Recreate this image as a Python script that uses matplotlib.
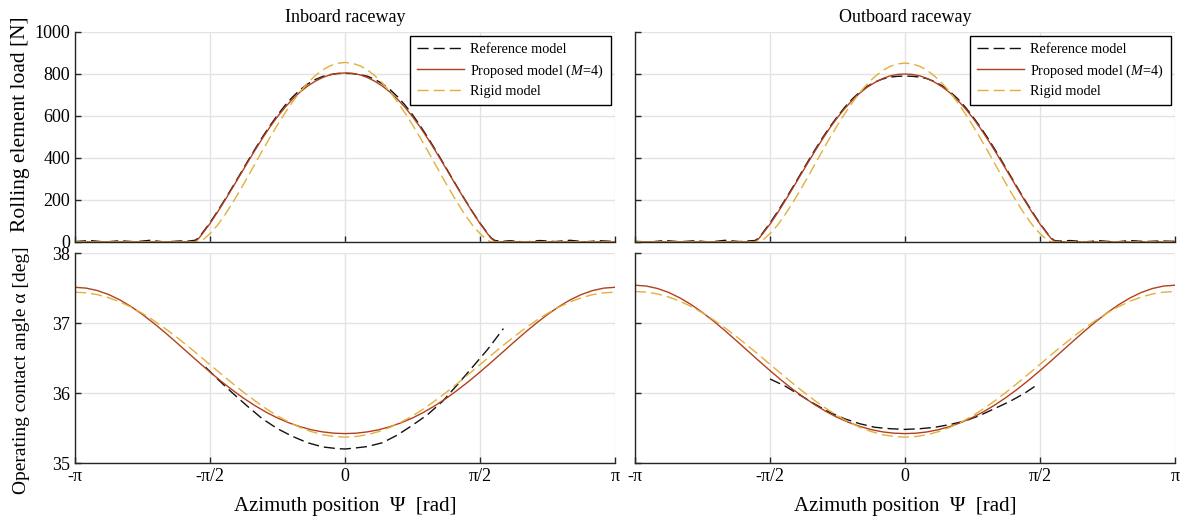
"""Rolling element load and operating contact angle vs azimuth position, inboard/outboard raceways."""

import matplotlib

matplotlib.use("Agg")
import matplotlib.pyplot as plt
import numpy as np

plt.rcParams["font.family"] = ["Liberation Serif", "DejaVu Serif"]
plt.rcParams["mathtext.fontset"] = "custom"
plt.rcParams["mathtext.rm"] = "Liberation Serif"
plt.rcParams["mathtext.it"] = "Liberation Serif:italic"

# ---- data (azimuth in degrees) ----
load_deg = [-180, -105, -102.5, -100, -97.5, -95, -90, -85, -80, -75, -70, -65, -60, -55, -50,
            -45, -40, -35, -30, -25, -20, -15, -10, -5, 0, 5, 10, 15, 20, 25, 30, 35, 40, 45,
            50, 55, 60, 65, 70, 75, 80, 85, 90, 95, 97.5, 100, 102.5, 105, 180]

load_in_proposed = [0, 0, 0, 3, 17, 40, 88, 142, 199, 258, 318, 378, 437, 494, 548,
                    597, 641, 680, 714, 742, 765, 783, 796, 803, 805, 803, 796, 783, 765, 742,
                    714, 680, 641, 597, 548, 494, 437, 378, 318, 258, 199, 142, 88, 40, 17,
                    3, 0, 0, 0]
load_in_rigid = [0, 0, 0, 0, 0, 8, 40, 80, 130, 186, 246, 308, 372, 436, 498,
                 558, 614, 667, 715, 756, 791, 819, 839, 851, 855, 851, 839, 819, 791, 756,
                 715, 667, 614, 558, 498, 436, 372, 308, 246, 186, 130, 80, 40, 8, 0,
                 0, 0, 0, 0]
load_out_proposed = [0, 0, 0, 3, 16, 38, 85, 138, 195, 254, 314, 374, 433, 490, 544,
                     593, 637, 676, 710, 738, 760, 778, 791, 798, 800, 798, 791, 778, 760, 738,
                     710, 676, 637, 593, 544, 490, 433, 374, 314, 254, 195, 138, 85, 38, 16,
                     3, 0, 0, 0]
load_out_rigid = [0, 0, 0, 0, 0, 8, 40, 80, 130, 185, 245, 307, 371, 435, 497,
                  557, 613, 665, 713, 754, 788, 816, 836, 848, 852, 848, 836, 816, 788, 754,
                  713, 665, 613, 557, 497, 435, 371, 307, 245, 185, 130, 80, 40, 8, 0,
                  0, 0, 0, 0]

ref_load_deg = [-180, -170, -160, -150, -140, -130, -120, -110, -105, -100, -97.5, -95, -90, -85,
                -80, -75, -70, -65, -60, -55, -50, -45, -40, -35, -30, -25, -20, -15, -10, -5,
                0, 5, 10, 15, 20, 25, 30, 35, 40, 45, 50, 55, 60, 65, 70, 75, 80, 85, 90, 95,
                97.5, 100, 105, 110, 120, 130, 140, 150, 160, 170, 180]
ref_load_in = [2, 7, 0, 6, 1, 8, 0, 5, 4, 8, 20, 44, 92, 146,
               203, 262, 322, 383, 442, 500, 554, 604, 650, 690, 724, 752, 773, 788, 797, 802,
               803, 802, 797, 789, 774, 753, 726, 692, 652, 606, 555, 500, 442, 382, 321, 260,
               201, 144, 90, 42, 19, 7, 3, 6, 0, 7, 2, 8, 1, 6, 2]
ref_load_out = [3, 0, 7, 1, 6, 0, 8, 2, 5, 7, 19, 42, 90, 144,
                200, 259, 319, 380, 439, 496, 549, 598, 643, 682, 715, 742, 762, 776, 785, 789,
                790, 789, 785, 777, 763, 743, 716, 683, 644, 599, 550, 497, 440, 380, 319, 258,
                199, 142, 88, 40, 18, 6, 4, 7, 1, 6, 0, 7, 2, 5, 3]

angle_deg = [-180, -172.5, -165, -157.5, -150, -142.5, -135, -127.5, -120, -112.5, -105, -97.5,
             -90, -82.5, -75, -67.5, -60, -52.5, -45, -37.5, -30, -22.5, -15, -7.5, 0,
             7.5, 15, 22.5, 30, 37.5, 45, 52.5, 60, 67.5, 75, 82.5, 90,
             97.5, 105, 112.5, 120, 127.5, 135, 142.5, 150, 157.5, 165, 172.5, 180]
angle_in_proposed = [37.510, 37.498, 37.463, 37.406, 37.329, 37.233, 37.121, 36.997, 36.864, 36.724,
                     36.581, 36.439, 36.300, 36.166, 36.041, 35.924, 35.819, 35.725, 35.643, 35.575,
                     35.519, 35.475, 35.445, 35.426, 35.420,
                     35.426, 35.445, 35.475, 35.519, 35.575, 35.643, 35.725, 35.819, 35.924, 36.041,
                     36.166, 36.300, 36.439, 36.581, 36.724, 36.864, 36.997, 37.121, 37.233, 37.329,
                     37.406, 37.463, 37.498, 37.510]
angle_in_rigid = [37.440, 37.431, 37.405, 37.361, 37.301, 37.226, 37.137, 37.035, 36.923, 36.801,
                  36.673, 36.540, 36.405, 36.270, 36.137, 36.009, 35.888, 35.775, 35.673, 35.584,
                  35.509, 35.449, 35.405, 35.379, 35.370,
                  35.379, 35.405, 35.449, 35.509, 35.584, 35.673, 35.775, 35.888, 36.009, 36.137,
                  36.270, 36.405, 36.540, 36.673, 36.801, 36.923, 37.035, 37.137, 37.226, 37.301,
                  37.361, 37.405, 37.431, 37.440]
angle_out_proposed = [37.540, 37.528, 37.493, 37.436, 37.358, 37.262, 37.150, 37.025, 36.890, 36.749,
                      36.605, 36.461, 36.320, 36.184, 36.056, 35.938, 35.830, 35.734, 35.650, 35.580,
                      35.522, 35.477, 35.445, 35.426, 35.420,
                      35.426, 35.445, 35.477, 35.522, 35.580, 35.650, 35.734, 35.830, 35.938, 36.056,
                      36.184, 36.320, 36.461, 36.605, 36.749, 36.890, 37.025, 37.150, 37.262, 37.358,
                      37.436, 37.493, 37.528, 37.540]
angle_out_rigid = [37.450, 37.441, 37.415, 37.371, 37.311, 37.235, 37.145, 37.043, 36.930, 36.808,
                   36.679, 36.546, 36.410, 36.274, 36.141, 36.012, 35.890, 35.777, 35.675, 35.585,
                   35.509, 35.449, 35.405, 35.379, 35.370,
                   35.379, 35.405, 35.449, 35.509, 35.585, 35.675, 35.777, 35.890, 36.012, 36.141,
                   36.274, 36.410, 36.546, 36.679, 36.808, 36.930, 37.043, 37.145, 37.235, 37.311,
                   37.371, 37.415, 37.441, 37.450]

ref_angle_in_deg = [-93, -85, -75, -65, -55, -45, -35, -25, -15, -5, 0, 5, 15, 25, 35, 45, 55, 65,
                    75, 85, 95, 105.6]
ref_angle_in = [36.37, 36.20, 36.00, 35.81, 35.63, 35.49, 35.38, 35.29, 35.23, 35.205, 35.20, 35.21,
                35.235, 35.29, 35.40, 35.54, 35.69, 35.88, 36.12, 36.37, 36.62, 36.92]
ref_angle_out_deg = [-90, -80, -70, -60, -50, -40, -30, -20, -10, 0, 10, 20, 30, 40, 50, 60, 70, 80, 89]
ref_angle_out = [36.20, 36.10, 35.97, 35.84, 35.72, 35.63, 35.56, 35.51, 35.49, 35.48, 35.49, 35.51,
                 35.55, 35.60, 35.68, 35.78, 35.88, 36.00, 36.13]

titles = ["Inboard raceway", "Outboard raceway"]
x_ticks = [-np.pi, -np.pi / 2, 0, np.pi / 2, np.pi]
x_ticklabels = ["-\u03c0", "-\u03c0/2", "0", "\u03c0/2", "\u03c0"]

C_REF = "#111111"
C_PROP = "#B3401C"
C_RIGID = "#E0B03A"
DASH = (0, (8, 3.6))


def style_axis(ax):
    ax.grid(True, color="#E3E3E3", linewidth=1.0)
    ax.set_axisbelow(True)
    for spine in ("top", "right"):
        ax.spines[spine].set_visible(False)
    for spine in ("left", "bottom"):
        ax.spines[spine].set_color("#262626")
        ax.spines[spine].set_linewidth(1.0)
    ax.tick_params(direction="in", length=4, width=1.0, labelsize=13, colors="#262626",
                   labelcolor="black")
    ax.set_xlim(-np.pi, np.pi)
    ax.set_xticks(x_ticks)


fig = plt.figure(figsize=(11.86, 5.21), dpi=100)
W, H = 1186, 521
lefts = [75, 635]
ax_w = 540
tops = [32, 253]
ax_h = 210

load_sets = [
    (ref_load_in, load_in_proposed, load_in_rigid),
    (ref_load_out, load_out_proposed, load_out_rigid),
]
angle_sets = [
    (ref_angle_in_deg, ref_angle_in, angle_in_proposed, angle_in_rigid),
    (ref_angle_out_deg, ref_angle_out, angle_out_proposed, angle_out_rigid),
]

for col in range(2):
    x0 = lefts[col] / W
    ax_top = fig.add_axes([x0, 1 - (tops[0] + ax_h) / H, ax_w / W, ax_h / H])
    ax_bot = fig.add_axes([x0, 1 - (tops[1] + ax_h) / H, ax_w / W, ax_h / H])

    ref, prop, rigid = load_sets[col]
    ax_top.plot(np.deg2rad(ref_load_deg), ref, color=C_REF, lw=1.0, ls=DASH, label="Reference model")
    ax_top.plot(np.deg2rad(load_deg), prop, color=C_PROP, lw=1.0, label=r"Proposed model ($\mathit{M}$=$\mathit{4}$)")
    ax_top.plot(np.deg2rad(load_deg), rigid, color=C_RIGID, lw=1.0, ls=DASH, label="Rigid model")
    style_axis(ax_top)
    ax_top.set_ylim(0, 1000)
    ax_top.set_yticks([0, 200, 400, 600, 800, 1000])
    ax_top.set_xticklabels([])
    ax_top.set_title(titles[col], fontsize=13, pad=7)
    leg = ax_top.legend(loc="upper right", fontsize=10.3, frameon=True, fancybox=False,
                        edgecolor="black", framealpha=1, borderaxespad=0.3,
                        handlelength=3.3, labelspacing=0.4, borderpad=0.5, handletextpad=0.4)
    leg.get_frame().set_linewidth(1.0)

    ref_x, ref_a, prop_a, rigid_a = angle_sets[col]
    ax_bot.plot(np.deg2rad(ref_x), ref_a, color=C_REF, lw=1.0, ls=DASH)
    ax_bot.plot(np.deg2rad(angle_deg), prop_a, color=C_PROP, lw=1.0)
    ax_bot.plot(np.deg2rad(angle_deg), rigid_a, color=C_RIGID, lw=1.0, ls=DASH)
    style_axis(ax_bot)
    ax_bot.set_ylim(35, 38)
    ax_bot.set_yticks([35, 36, 37, 38])
    ax_bot.set_xticklabels(x_ticklabels)
    ax_bot.set_xlabel("Azimuth position  \u03a8  [rad]", fontsize=15, labelpad=9)

    if col == 0:
        ax_top.set_ylabel("Rolling element load [N]", fontsize=15.5)
        ax_top.yaxis.set_label_coords(-0.083, 0.56)
        ax_bot.set_ylabel("Operating contact angle \u03b1 [deg]", fontsize=14)
        ax_bot.yaxis.set_label_coords(-0.083, 0.44)
    else:
        ax_top.set_yticklabels([])
        ax_bot.set_yticklabels([])

fig.savefig("out.png", dpi=100)
plt.close(fig)
